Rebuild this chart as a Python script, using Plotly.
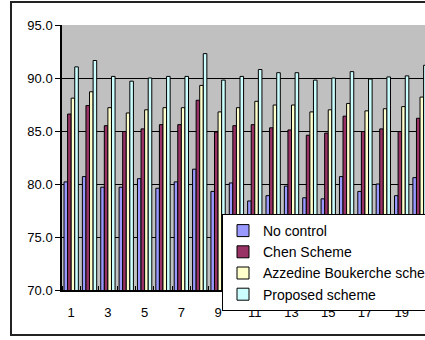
import plotly.graph_objects as go

categories = list(range(1, 21))
no_control = [80.2, 80.7, 79.7, 79.7, 80.5, 79.6, 80.2, 81.4, 79.3, 80.1,
              78.4, 78.9, 79.8, 78.7, 78.6, 80.7, 79.3, 80.0, 78.9, 80.6]
chen = [86.6, 87.4, 85.5, 84.95, 85.2, 85.6, 85.6, 87.9, 84.9, 85.5,
        85.6, 85.3, 85.1, 84.6, 84.8, 86.4, 84.95, 85.2, 84.95, 86.2]
azzedine = [88.1, 88.7, 87.2, 86.7, 87.0, 87.2, 87.2, 89.3, 86.8, 87.2,
            87.8, 87.45, 87.45, 86.8, 87.0, 87.6, 86.9, 87.1, 87.3, 88.2]
proposed = [91.05, 91.65, 90.15, 89.7, 90.0, 90.15, 90.15, 92.3, 89.8, 90.15,
            90.8, 90.5, 90.5, 89.8, 90.0, 90.6, 89.9, 90.1, 90.2, 91.2]
series_names = ["No control", "Chen Scheme", "Azzedine Boukerche scheme", "Proposed scheme"]
series_colors = ["#9999FF", "#993366", "#FFFFCC", "#CCFFFF"]
x_tick_labels = [1, 3, 5, 7, 9, 11, 13, 15, 17, 19]
y_ticks = [70, 75, 80, 85, 90, 95]

FONT = "Liberation Sans, Arial, sans-serif"

fig = go.Figure()
for name, vals, col in zip(series_names, [no_control, chen, azzedine, proposed], series_colors):
    fig.add_trace(go.Bar(
        x=categories, y=vals, name=name,
        marker=dict(color=col, line=dict(color="black", width=1)),
    ))

fig.update_layout(
    width=425, height=340,
    margin=dict(l=62, r=0, t=25, b=50, autoexpand=False),
    paper_bgcolor="white",
    plot_bgcolor="#C0C0C0",
    barmode="group",
    bargap=0.22,
    bargroupgap=0,
    font=dict(family=FONT, color="black"),
    showlegend=True,
    legend=dict(
        x=(222 - 62) / 363, xanchor="left",
        y=(290 - 214) / 265, yanchor="top",
        bgcolor="white", bordercolor="black", borderwidth=1,
        font=dict(size=14, family=FONT, color="black"),
        tracegroupgap=0,
    ),
    xaxis=dict(
        range=[0.5, 20.27],
        tickmode="array", tickvals=x_tick_labels,
        ticktext=[str(v) for v in x_tick_labels],
        ticks="", showgrid=False,
        showline=True, linecolor="black", linewidth=1.5,
        tickfont=dict(size=13),
        ticklabelstandoff=10,
        minor=dict(ticks="inside", tick0=0.5, dtick=1, ticklen=4, tickcolor="black", showgrid=False),
        zeroline=False,
    ),
    yaxis=dict(
        range=[70, 95],
        tickmode="array", tickvals=y_ticks,
        tickformat=".1f",
        ticks="outside", ticklen=5, tickcolor="black",
        showgrid=True, gridcolor="black", gridwidth=1,
        showline=True, linecolor="black", linewidth=1.5,
        tickfont=dict(size=13),
        zeroline=False,
    ),
    shapes=[
        dict(type="rect", xref="paper", yref="paper",
             x0=(11 - 62) / 363, x1=1.05,
             y0=(290 - 335) / 265, y1=(290 - 2) / 265,
             line=dict(color="#222222", width=2), fillcolor="rgba(0,0,0,0)", layer="below"),
    ],
)

fig.write_html(
    "out.html",
    config={"displayModeBar": False},
    post_script="document.body.style.margin='0';document.body.style.overflow='hidden';",
)
